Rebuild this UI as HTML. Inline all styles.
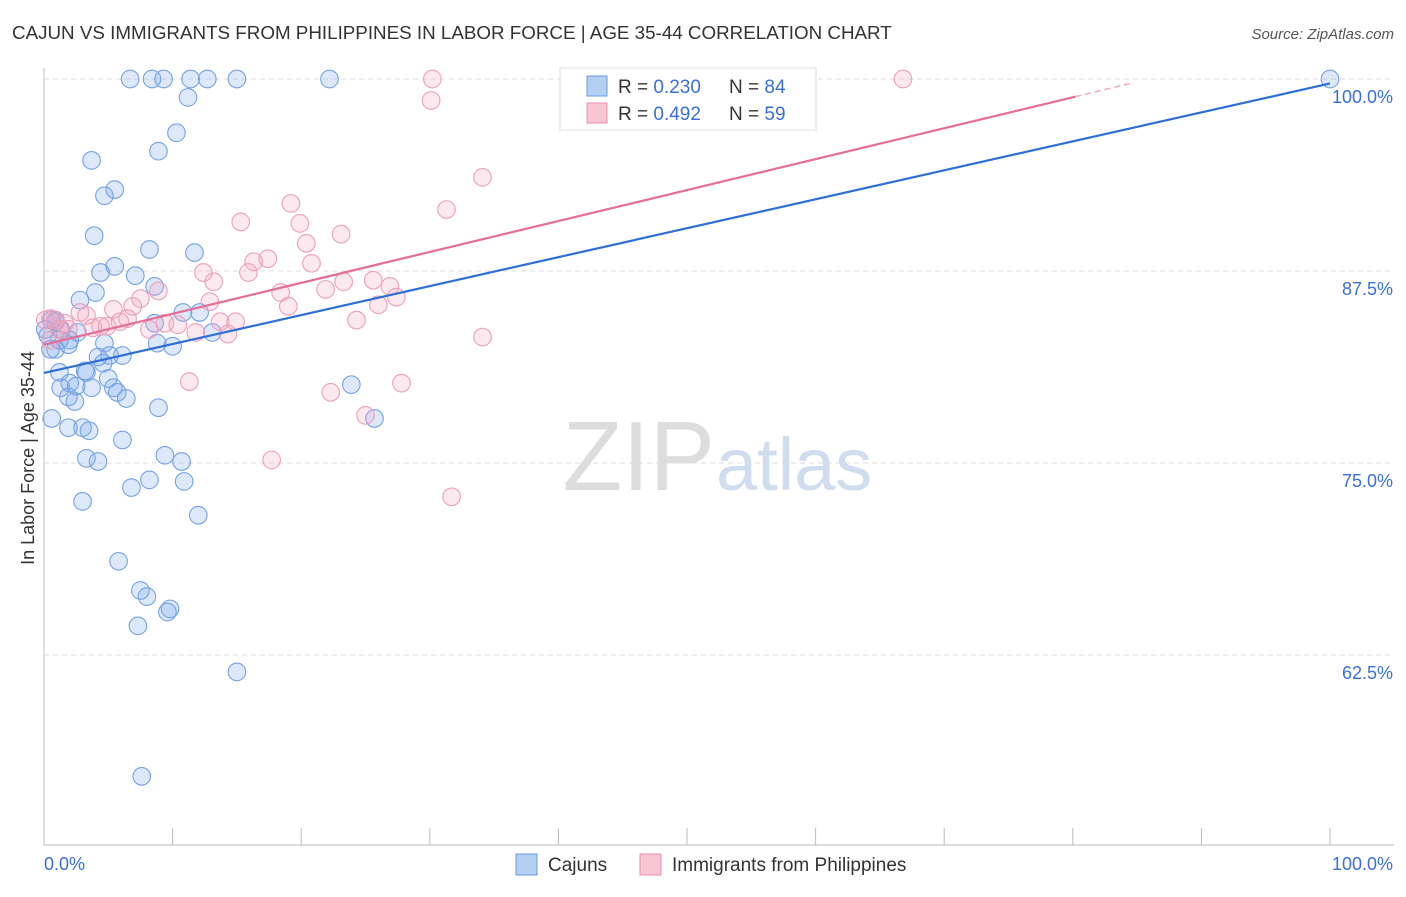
<!DOCTYPE html>
<html><head><meta charset="utf-8"><style>
body{margin:0;background:#fff;font-family:"Liberation Sans",sans-serif}
svg text{font-family:"Liberation Sans",sans-serif}
</style></head><body>
<svg id="chart" width="1406" height="892">
<text x="12" y="39" font-size="18.8" fill="#333">CAJUN VS IMMIGRANTS FROM PHILIPPINES IN LABOR FORCE | AGE 35-44 CORRELATION CHART</text>
<text x="1394" y="39" font-size="15" fill="#555" font-style="italic" text-anchor="end">Source: ZipAtlas.com</text>
<text x="715" y="490" font-size="98" fill="#ddd" text-anchor="end" font-family="Liberation Serif">ZIP</text>
<text x="716" y="490" font-size="74" fill="#cfddef">atlas</text>
<text transform="translate(34,458) rotate(-90)" font-size="18" fill="#333" text-anchor="middle">In Labor Force | Age 35-44</text>
<g id="grid"></g><g id="pts"></g><g id="lines"></g>
<g>
<rect x="560" y="68" width="256" height="62" fill="#fff" stroke="#ddd"/>
<rect x="587" y="76" width="20" height="20" fill="#b5cff3" stroke="#6a9ae0"/>
<text x="618" y="93" font-size="19" fill="#333">R = <tspan fill="#3a6fd8">0.230</tspan></text>
<text x="729" y="93" font-size="19" fill="#333">N = <tspan fill="#3a6fd8">84</tspan></text>
<rect x="587" y="103" width="20" height="20" fill="#f8c5d4" stroke="#e990ae"/>
<text x="618" y="120" font-size="19" fill="#333">R = <tspan fill="#3a6fd8">0.492</tspan></text>
<text x="729" y="120" font-size="19" fill="#333">N = <tspan fill="#3a6fd8">59</tspan></text>
</g>
<g>
<rect x="516" y="854" width="21" height="21" fill="#b5cff3" stroke="#6a9ae0"/>
<text x="548" y="871" font-size="19" fill="#333">Cajuns</text>
<rect x="640" y="854" width="21" height="21" fill="#f8c5d4" stroke="#e990ae"/>
<text x="672" y="871" font-size="19" fill="#333">Immigrants from Philippines</text>
</g>
</svg>
<script>
const blueX=[6.7,8.4,9.3,11.4,12.7,15.0,22.2,100,11.2,10.3,8.9,3.7,5.5,4.7,3.9,8.2,11.7,4.4,5.5,7.1,4.0,2.8,8.6,10.8,12.1,13.1,0.6,0.9,1.3,2.6,8.6,1.9,0.9,4.7,8.8,10.0,4.2,6.1,5.1,4.6,3.2,1.2,3.3,5.0,2.0,2.5,1.3,3.7,23.9,5.4,5.7,1.9,6.4,2.4,8.9,0.6,25.7,1.9,3.0,3.5,6.1,9.4,3.3,4.2,10.7,8.2,6.8,10.9,3.0,12.0,5.8,7.5,8.0,9.8,9.6,7.3,15.0,7.6,0.3,0.5,0.1,0.9,1.2,2.0];
const blueY=[100,100,100,100,100,100,100,100,98.8,96.5,95.3,94.7,92.8,92.4,89.8,88.9,88.7,87.4,87.8,87.2,86.1,85.6,86.5,84.8,84.8,83.5,84.3,84.2,83.7,83.5,84.1,82.7,82.4,82.8,82.8,82.6,81.9,82.0,82.0,81.5,81.0,80.9,80.9,80.5,80.2,80.0,79.9,79.9,80.1,79.9,79.6,79.3,79.2,79.0,78.6,77.9,77.9,77.3,77.3,77.1,76.5,75.5,75.3,75.1,75.1,73.9,73.4,73.8,72.5,71.6,68.6,66.7,66.3,65.5,65.3,64.4,61.4,54.6,83.3,82.4,83.7,84.2,83.0,83.0];
const pinkX=[30.2,47.6,66.8,30.1,34.1,31.3,19.2,15.3,19.9,23.1,20.4,17.4,16.3,20.8,12.4,15.9,13.2,25.6,23.3,26.9,21.9,18.4,27.4,26.0,19.0,12.9,8.9,7.5,6.9,5.4,2.8,3.3,0.5,0.9,1.6,4.4,4.9,3.8,1.9,5.9,6.5,8.2,10.4,9.4,13.7,14.9,11.8,14.3,24.3,34.1,11.3,27.8,22.3,25.0,17.7,31.7,0.5,1.2,0.1];
const pinkY=[100,100,100,98.6,93.6,91.5,91.9,90.7,90.6,89.9,89.3,88.3,88.1,88.0,87.4,87.4,86.8,86.9,86.8,86.5,86.3,86.1,85.8,85.3,85.2,85.5,86.2,85.7,85.2,85.0,84.8,84.6,84.4,84.3,84.1,83.9,83.9,83.8,83.7,84.2,84.4,83.7,84.0,84.1,84.2,84.2,83.5,83.4,84.3,83.2,80.3,80.2,79.6,78.1,75.2,72.8,83.0,83.7,84.3];
const yTicks=[100,87.5,75,62.5];
const yTickLabels=["100.0%","87.5%","75.0%","62.5%"];
const xTicks=[10,20,30,40,50,60,70,80,90,100];

const NS="http://www.w3.org/2000/svg";
const X=v=>44+v*12.86;
const Y=v=>79+(100-v)*15.36;
function mk(tag,attrs,parent){const e=document.createElementNS(NS,tag);for(const k in attrs)e.setAttribute(k,attrs[k]);document.getElementById(parent).appendChild(e);return e;}
let e;
e=mk('line',{x1:44,y1:68,x2:44,y2:845,stroke:'#bbb'},'grid');


e=mk('line',{x1:44,y1:845,x2:1394,y2:845,stroke:'#bbb'},'grid');


yTicks.forEach((t,i)=>{
 e=mk('line',{x1:44,x2:1394,y1:Y(t),y2:Y(t),stroke:'#ddd','stroke-dasharray':'5,4'},'grid');
 
 
 e=mk('text',{x:1393,y:Y(t)+24,'font-size':18,fill:'#3a6fd8','text-anchor':'end'},'grid');
 e.textContent=yTickLabels[i];
 
 
});
xTicks.forEach(t=>{
 e=mk('line',{x1:X(t),x2:X(t),y1:828,y2:845,stroke:'#bbb'},'grid');
 
 
});
e=mk('text',{x:44,y:870,'font-size':18,fill:'#3a6fd8'},'grid');e.textContent='0.0%';


e=mk('text',{x:1393,y:870,'font-size':18,fill:'#3a6fd8','text-anchor':'end'},'grid');e.textContent='100.0%';



function pts(xs,ys,fill,stroke,name){xs.forEach((x,i)=>{
 e=mk('circle',{cx:X(x),cy:Y(ys[i]),r:8.8,fill:fill,stroke:stroke,'stroke-width':1.1},'pts');
 
 
});}
pts(blueX,blueY,'rgba(120,165,235,0.25)','#76a2e4','cajun-point');
pts(pinkX,pinkY,'rgba(242,165,192,0.25)','#eba0bb','philippines-point');

function reg(xs,ys){const n=xs.length;let mx=0,my=0;for(let i=0;i<n;i++){mx+=xs[i];my+=ys[i];}mx/=n;my/=n;let sxy=0,sxx=0;for(let i=0;i<n;i++){sxy+=(xs[i]-mx)*(ys[i]-my);sxx+=(xs[i]-mx)**2;}const b=sxy/sxx;return [my-b*mx,b];}
let [a1,b1]=reg(blueX,blueY);
e=mk('line',{x1:X(0),y1:Y(a1),x2:X(100),y2:Y(a1+100*b1),stroke:'#2f6fd6','stroke-width':2.2},'lines');


let [a2,b2]=reg(pinkX,pinkY);
e=mk('line',{x1:X(0),y1:Y(a2),x2:X(80.2),y2:Y(a2+80.2*b2),stroke:'#e66d96','stroke-width':2.2},'lines');


e=mk('line',{x1:X(80.2),y1:Y(a2+80.2*b2),x2:X(84.5),y2:Y(a2+84.5*b2),stroke:'#f0a8c0','stroke-width':1.5,'stroke-dasharray':'6,4'},'lines');


</script>
</body></html>
